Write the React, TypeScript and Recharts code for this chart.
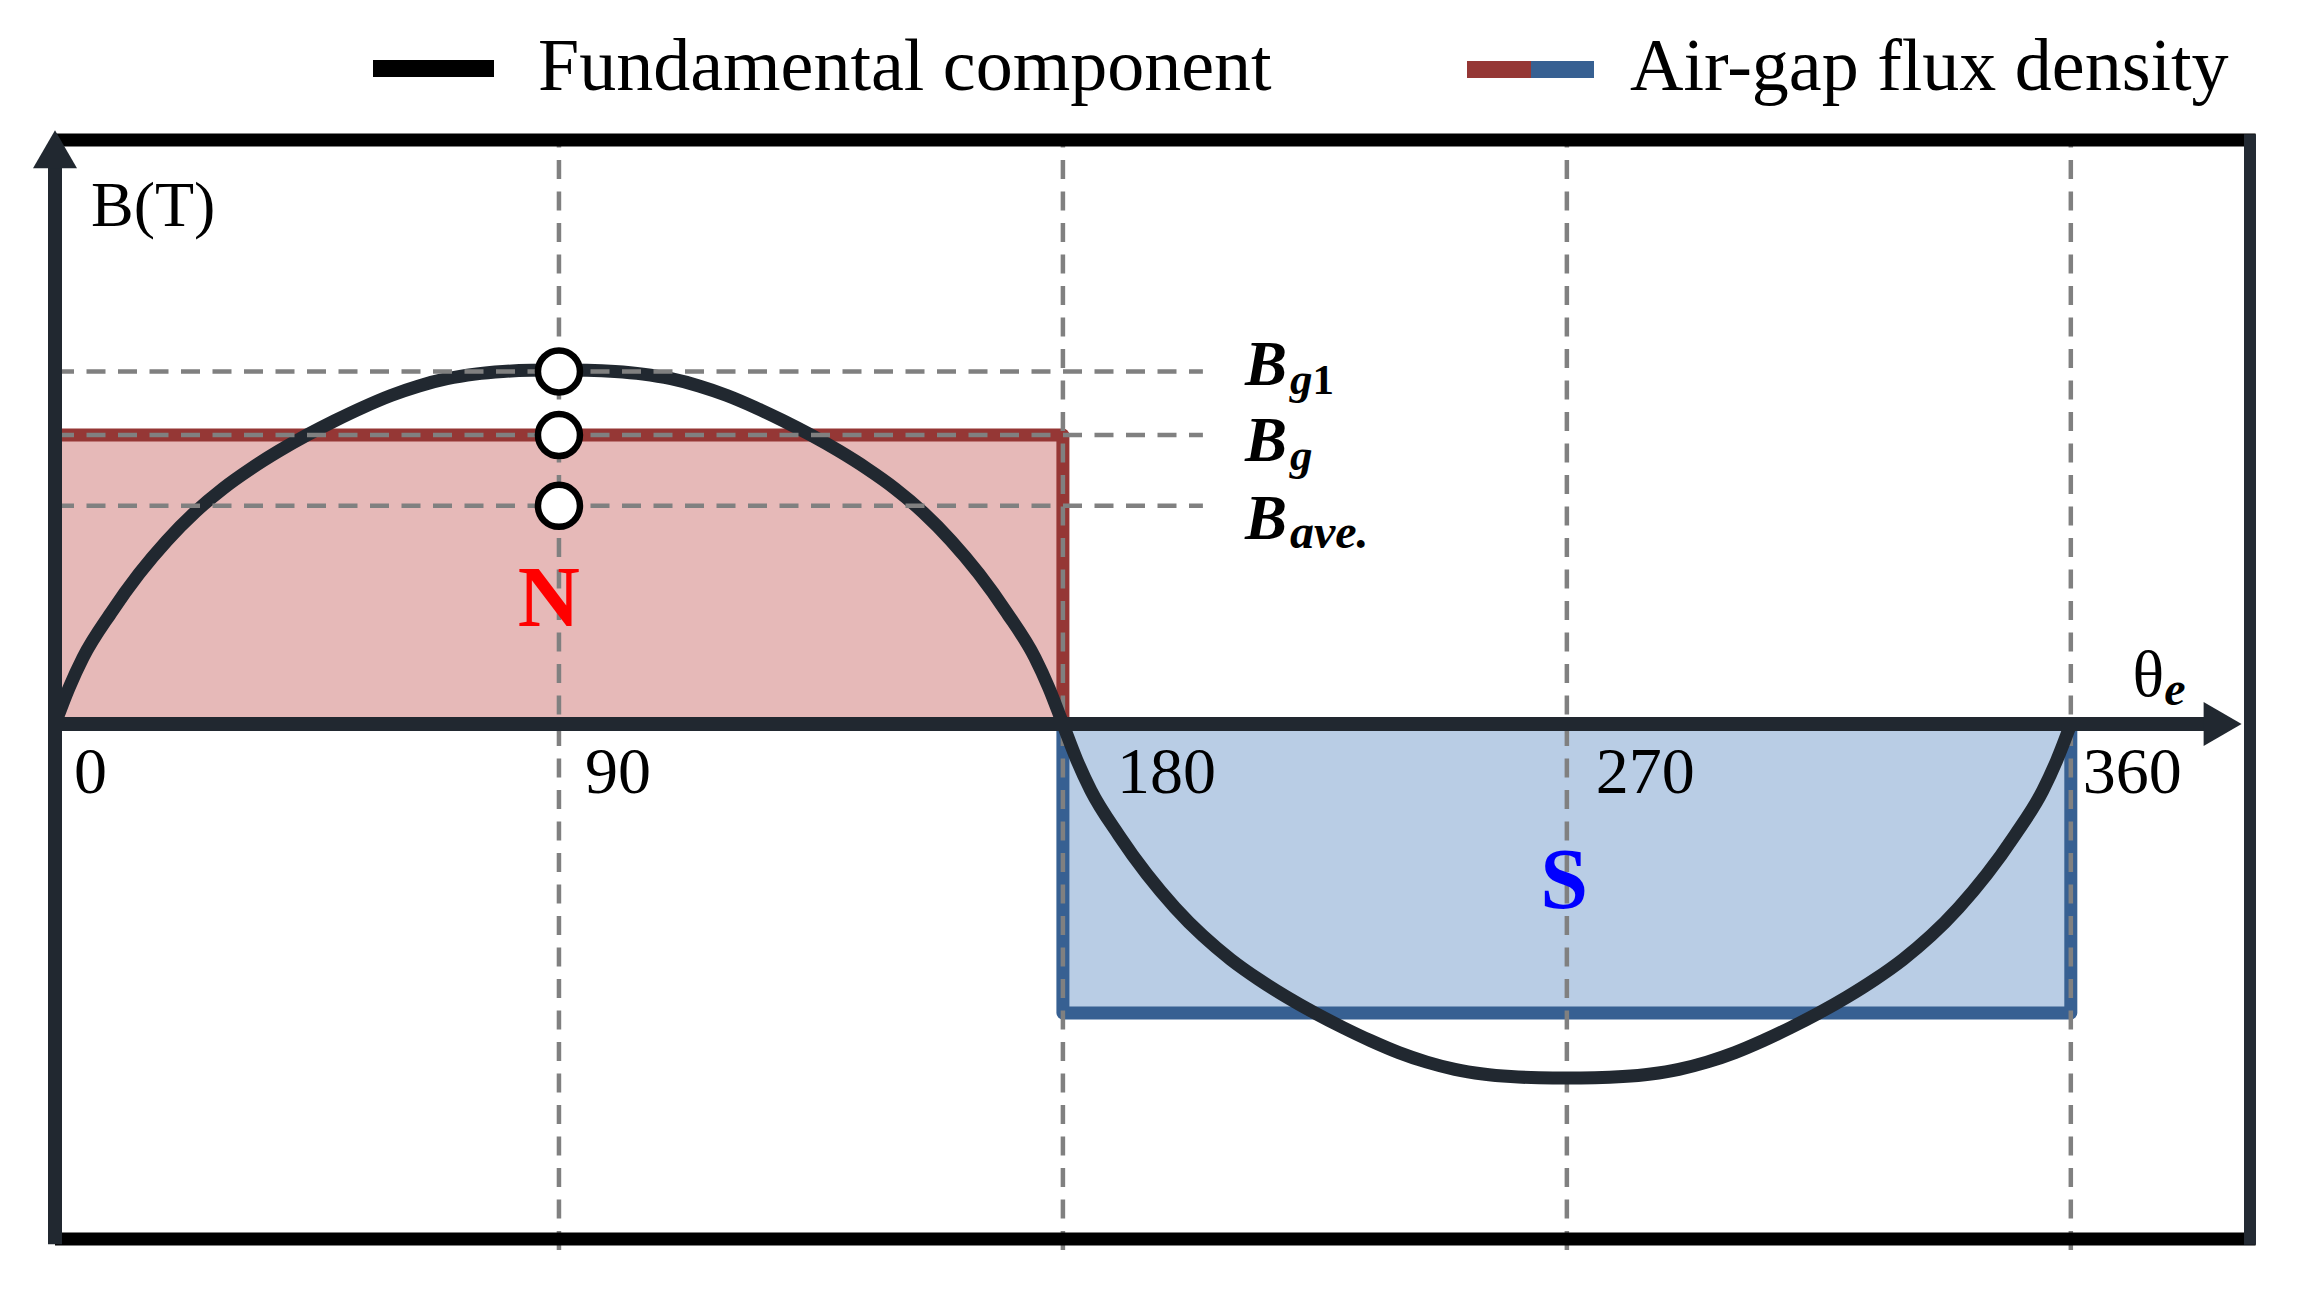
import {
  Area,
  ComposedChart,
  Legend,
  Line,
  ReferenceDot,
  ReferenceLine,
  XAxis,
  YAxis,
} from "recharts";

const SERIF = '"Liberation Serif", "Times New Roman", Times, serif';

// Fundamental component (electrical degrees -> B in units of Bg).
const FUND_THETA_N = [
  0, 2.5, 5, 10, 15, 20, 25, 30, 35, 40, 45, 50, 55, 60, 65, 70, 75, 80, 85, 90,
  95, 100, 105, 110, 115, 120, 125, 130, 135, 140, 145, 150, 155, 160, 165, 170, 175, 177.5, 180,
];
const FUND_B_N = [
  0, 0.125, 0.23, 0.385, 0.52, 0.635, 0.733, 0.815, 0.884, 0.945, 1.0, 1.05, 1.096, 1.137, 1.17, 1.195, 1.211, 1.22, 1.224, 1.225,
  1.224, 1.22, 1.211, 1.195, 1.17, 1.137, 1.096, 1.05, 1.0, 0.945, 0.884, 0.815, 0.733, 0.635, 0.52, 0.385, 0.23, 0.125, 0,
];
const FUND_THETA_S = [
  182.5, 185, 190, 195, 200, 205, 210, 215, 220, 225, 230, 235, 240, 245, 250, 255, 260, 265, 270,
  275, 280, 285, 290, 295, 300, 305, 310, 315, 320, 325, 330, 335, 340, 345, 350, 355, 357.5, 360,
];
const FUND_B_S = [
  -0.125, -0.23, -0.385, -0.52, -0.635, -0.733, -0.815, -0.884, -0.945, -1.0, -1.05, -1.096, -1.137, -1.17, -1.195, -1.211, -1.22, -1.224, -1.225,
  -1.224, -1.22, -1.211, -1.195, -1.17, -1.137, -1.096, -1.05, -1.0, -0.945, -0.884, -0.815, -0.733, -0.635, -0.52, -0.385, -0.23, -0.125, 0,
];

// Square-wave air-gap flux density (N pole then S pole).
const FLUX_N_THETA = [0, 0, 180, 180];
const FLUX_N_B = [0, 1, 1, 0];
const FLUX_S_THETA = [180, 180, 360, 360];
const FLUX_S_B = [0, -1, -1, 0];

// Bg1, Bg, Bave.
const LEVELS = [1.22, 1.0, 0.755];
const LEVEL_SUBS = ["g", "g", "ave."];
const LEVEL_SUBS_UPRIGHT = ["1", "", ""];

const X_TICKS = [0, 90, 180, 270, 360];
const X_TICK_LABELS = ["0", "90", "180", "270", "360"];
const GUIDE_THETA = [90, 180, 270, 360];
const PEAK_THETA = 90;

const POLES = ["N", "S"];
const POLE_THETA = [88.2, 269.5];
const POLE_B = [0.443, -0.533];

// layout
const W = 2313;
const H = 1303;
const MARGIN = { top: 140, right: 63, bottom: 64, left: 55 };
const X_MAX = 392;
const Y_MIN = -1.782;
const Y_MAX = 2.021;
const X_ARROW = 390.5;
const Y_ARROW = 2.055;
const LEVEL_LINE_END = 205;
const LEVEL_LABEL_X = 212.5;
const LEVEL_LABEL_DY = [14, 26, 33];
const TICK_DX = [19, 26, 54, 29, 12];

const DARK = "#212830";
const RED_EDGE = "#953735";
const RED_FILL = "#e6b9b8";
const BLUE_EDGE = "#376092";
const BLUE_FILL = "#b9cde5";
const GUIDE = "#808080";
const DASH = "19 12.5";

const toPoints = (xs: number[], ys: number[]) => xs.map((x, i) => ({ x, b: ys[i] }));

const fundamental = [...toPoints(FUND_THETA_N, FUND_B_N), ...toPoints(FUND_THETA_S, FUND_B_S)];
const fluxNorth = toPoints(FLUX_N_THETA, FLUX_N_B);
const fluxSouth = toPoints(FLUX_S_THETA, FLUX_S_B);

const HEAD_LEN = 38;
const HEAD_HALF = 22;

const xAxisShape = (p: any) => {
  const xs = Math.min(p.x1, p.x2);
  const xe = Math.max(p.x1, p.x2);
  const y = p.y1;
  return (
    <g>
      <line x1={xs - 7} y1={y} x2={xe - HEAD_LEN + 2} y2={y} stroke={DARK} strokeWidth={14} />
      <polygon points={`${xe},${y} ${xe - HEAD_LEN},${y - HEAD_HALF} ${xe - HEAD_LEN},${y + HEAD_HALF}`} fill={DARK} />
    </g>
  );
};

const yAxisShape = (p: any) => {
  const top = Math.min(p.y1, p.y2);
  const bottom = Math.max(p.y1, p.y2);
  const x = p.x1;
  return (
    <g>
      <line x1={x} y1={bottom} x2={x} y2={top + HEAD_LEN - 2} stroke={DARK} strokeWidth={14} />
      <polygon points={`${x},${top} ${x - HEAD_HALF},${top + HEAD_LEN} ${x + HEAD_HALF},${top + HEAD_LEN}`} fill={DARK} />
    </g>
  );
};

const textAt = (render: (cx: number, cy: number) => any) => (p: any) => render(p.cx, p.cy);

function LegendBox() {
  return (
    <svg width={W} height={130} style={{ display: "block" }}>
      <rect x={373} y={60} width={121} height={17} fill="#000" />
      <text x={538} y={90} fontFamily={SERIF} fontSize={74} fill="#000">
        Fundamental component
      </text>
      <rect x={1467} y={61} width={64} height={17} fill={RED_EDGE} />
      <rect x={1531} y={61} width={63} height={17} fill={BLUE_EDGE} />
      <text x={1630} y={90} fontFamily={SERIF} fontSize={74} fill="#000">
        Air-gap flux density
      </text>
    </svg>
  );
}

export default function App() {
  return (
    <div style={{ position: "absolute", left: 0, top: 0, width: W, height: H, background: "#fff" }}>
      <ComposedChart width={W} height={H} margin={MARGIN}>
        <XAxis type="number" dataKey="x" domain={[0, X_MAX]} hide allowDataOverflow />
        <YAxis type="number" dataKey="b" domain={[Y_MIN, Y_MAX]} hide allowDataOverflow />

        <Area
          data={fluxNorth}
          dataKey="b"
          type="linear"
          stroke={RED_EDGE}
          strokeWidth={13}
          strokeLinejoin="round"
          fill={RED_FILL}
          fillOpacity={1}
          isAnimationActive={false}
          zIndex={100}
        />
        <Area
          data={fluxSouth}
          dataKey="b"
          type="linear"
          stroke={BLUE_EDGE}
          strokeWidth={13}
          strokeLinejoin="round"
          fill={BLUE_FILL}
          fillOpacity={1}
          isAnimationActive={false}
          zIndex={100}
        />

        {GUIDE_THETA.map((t) => (
          <ReferenceLine
            key={`v${t}`}
            segment={[{ x: t, y: -1.82 }, { x: t, y: Y_MAX }]}
            stroke={GUIDE}
            strokeWidth={4.5}
            strokeDasharray={DASH}
            ifOverflow="visible"
            zIndex={200}
          />
        ))}

        <Line
          data={fundamental}
          dataKey="b"
          type="monotone"
          stroke={DARK}
          strokeWidth={13}
          dot={false}
          activeDot={false}
          isAnimationActive={false}
          zIndex={300}
        />

        {LEVELS.map((v, i) => (
          <ReferenceLine
            key={`h${i}`}
            segment={[{ x: 0, y: v }, { x: LEVEL_LINE_END, y: v }]}
            stroke={GUIDE}
            strokeWidth={4.5}
            strokeDasharray={DASH}
            ifOverflow="visible"
            zIndex={350}
          />
        ))}

        {/* frame */}
        <ReferenceLine
          segment={[{ x: 0, y: Y_MAX }, { x: X_MAX + 1, y: Y_MAX }]}
          stroke="#000"
          strokeWidth={13}
          ifOverflow="visible"
          zIndex={400}
        />
        <ReferenceLine
          segment={[{ x: 0, y: Y_MIN }, { x: X_MAX + 1, y: Y_MIN }]}
          stroke="#000"
          strokeWidth={13}
          ifOverflow="visible"
          zIndex={400}
        />
        <ReferenceLine
          segment={[{ x: X_MAX, y: Y_MIN - 0.02 }, { x: X_MAX, y: Y_MAX + 0.02 }]}
          stroke="#232a33"
          strokeWidth={12}
          ifOverflow="visible"
          zIndex={400}
        />

        {/* axes with arrows */}
        <ReferenceLine
          segment={[{ x: 0, y: 0 }, { x: X_ARROW, y: 0 }]}
          shape={xAxisShape}
          ifOverflow="visible"
          zIndex={450}
        />
        <ReferenceLine
          segment={[{ x: 0, y: -1.8 }, { x: 0, y: Y_ARROW }]}
          shape={yAxisShape}
          ifOverflow="visible"
          zIndex={450}
        />

        {LEVELS.map((v, i) => (
          <ReferenceDot
            key={`c${i}`}
            x={PEAK_THETA}
            y={v}
            r={21}
            fill="#fff"
            stroke="#000"
            strokeWidth={6.5}
            ifOverflow="visible"
            zIndex={500}
          />
        ))}

        {LEVELS.map((v, i) => (
          <ReferenceDot
            key={`l${i}`}
            x={LEVEL_LABEL_X}
            y={v}
            ifOverflow="visible"
            zIndex={600}
            shape={textAt((cx, cy) => (
              <text
                x={cx}
                y={cy + LEVEL_LABEL_DY[i]}
                fontFamily={SERIF}
                fontWeight="bold"
                fontStyle="italic"
                fontSize={63}
                fill="#000"
              >
                B
                <tspan fontSize={i === 2 ? 48 : 45} dy={9} dx={3}>
                  {LEVEL_SUBS[i]}
                </tspan>
                {LEVEL_SUBS_UPRIGHT[i] ? (
                  <tspan fontSize={43} fontStyle="normal">
                    {LEVEL_SUBS_UPRIGHT[i]}
                  </tspan>
                ) : null}
              </text>
            ))}
          />
        ))}

        {X_TICKS.map((t, i) => (
          <ReferenceDot
            key={`t${t}`}
            x={t}
            y={0}
            ifOverflow="visible"
            zIndex={600}
            shape={textAt((cx, cy) => (
              <text x={cx + TICK_DX[i]} y={cy + 69} fontFamily={SERIF} fontSize={66} fill="#000">
                {X_TICK_LABELS[i]}
              </text>
            ))}
          />
        ))}

        {POLES.map((name, i) => (
          <ReferenceDot
            key={name}
            x={POLE_THETA[i]}
            y={POLE_B[i]}
            ifOverflow="visible"
            zIndex={600}
            shape={textAt((cx, cy) => (
              <text
                x={cx}
                y={cy + 30}
                textAnchor="middle"
                fontFamily={SERIF}
                fontWeight="bold"
                fontSize={86}
                fill={i === 0 ? "#ff0000" : "#0000ff"}
              >
                {name}
              </text>
            ))}
          />
        ))}

        <ReferenceDot
          x={0}
          y={Y_MAX}
          ifOverflow="visible"
          zIndex={600}
          shape={textAt((cx, cy) => (
            <text x={cx + 36} y={cy + 86} fontFamily={SERIF} fontSize={64} fill="#000">
              B(T)
            </text>
          ))}
        />
        <ReferenceDot
          x={X_ARROW}
          y={0}
          ifOverflow="visible"
          zIndex={600}
          shape={textAt((cx, cy) => (
            <text x={cx - 109} y={cy - 28} fontFamily={SERIF} fontSize={66} fill="#000">
              θ
              <tspan fontSize={48} fontWeight="bold" fontStyle="italic" dy={9}>
                e
              </tspan>
            </text>
          ))}
        />

        <Legend
          layout="horizontal"
          verticalAlign="middle"
          align="center"
          content={LegendBox}
          wrapperStyle={{ left: 0, top: 0, width: W, height: 130 }}
        />
      </ComposedChart>
    </div>
  );
}
